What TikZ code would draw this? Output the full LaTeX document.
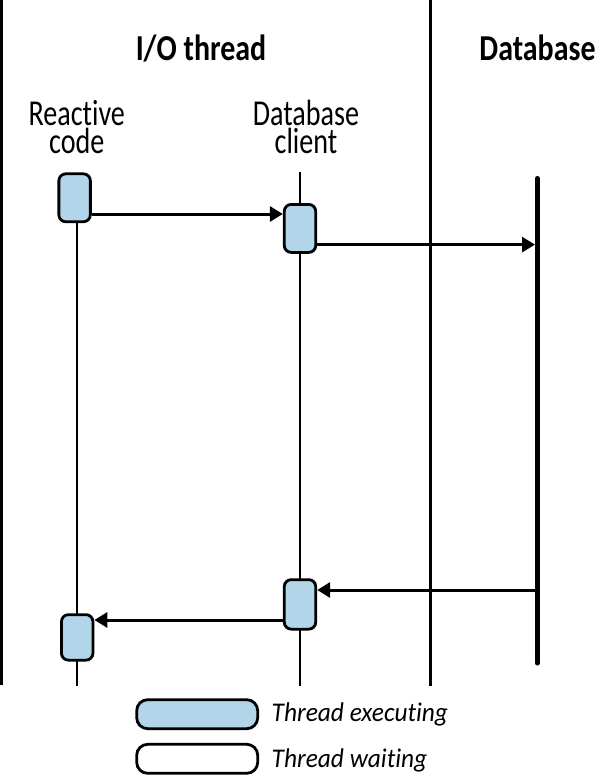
\documentclass[tikz,border=0pt]{standalone}
\usepackage{fontspec}
\setmainfont{Carlito}[FakeStretch=0.77, Ligatures=NoCommon]
\newfontfamily\headfont{Carlito}[FakeStretch=0.82, Ligatures=NoCommon]
\newfontfamily\legfont{Carlito}[FakeStretch=0.94, Ligatures=NoCommon]
\usetikzlibrary{arrows.meta}
\definecolor{execblue}{HTML}{B3D5EA}
\begin{document}
\begin{tikzpicture}[x=1pt,y=-1pt,
  border/.style={line width=2.6pt},
  lifeline/.style={line width=2pt},
  dbline/.style={line width=5pt, line cap=round},
  execbox/.style={draw, line width=2.8pt, fill=execblue, rounded corners=7pt,
    minimum width=31.5pt, minimum height=48pt, inner sep=0pt},
  legbox/.style={draw, line width=2.8pt, rounded corners=11pt,
    minimum width=121pt, minimum height=29pt, inner sep=0pt},
  msg/.style={line width=3pt, -{Triangle[length=13pt,width=15pt]}},
  head/.style={font=\headfont\bfseries\fontsize{36.5}{36}\selectfont, inner sep=0pt},
  lbl/.style={font=\fontsize{36.5}{28}\selectfont, align=center, inner sep=0pt},
  legtxt/.style={font=\legfont\itshape\fontsize{27}{28}\selectfont, inner sep=0pt}
]
\useasboundingbox (0,0) rectangle (600,776);

% frame lines
\coordinate (bTop) at (1.5,0);
\coordinate (bBot) at (1.5,685);
\coordinate (sTop) at (430.7,0);
\coordinate (sBot) at (430.7,686);
\draw[border] (bTop) -- (bBot);
\draw[border] (sTop) -- (sBot);

% headers
\node[head, anchor=base] (hio) at (201,60) {I/O thread};
\node[head, anchor=base] (hdb) at (537.5,60) {Database};
\node[lbl, anchor=base] (lrc) at (76.7,153) {Reactive\\code};
\node[lbl, anchor=base] (ldc) at (306,153) {Database\\client};

% lifelines
\coordinate (rcTop) at (77.4,215);
\coordinate (rcBot) at (77.4,686);
\coordinate (dcTop) at (300,172);
\coordinate (dcBot) at (300,686);
\coordinate (dbTop) at (537.3,178.5);
\coordinate (dbBot) at (537.3,663);
\draw[lifeline] (rcTop) -- (rcBot);
\draw[lifeline] (dcTop) -- (dcBot);
\draw[dbline] (dbTop) -- (dbBot);

% execution boxes
\node[execbox] (rc1) at (74.6,197.8) {};
\node[execbox] (dc1) at (300,228.4) {};
\node[execbox, minimum height=49.5pt] (dc2) at (300,604.4) {};
\node[execbox, minimum height=45.5pt] (rc2) at (77.2,637.4) {};

% message levels
\coordinate (y1) at (0,214);
\coordinate (y2) at (0,244.6);
\coordinate (y3) at (0,590);
\coordinate (y4) at (0,620);
\coordinate (dbL) at (535,0);
\coordinate (dbC) at (537.3,0);

\draw[msg] (rc1.east |- y1) -- (dc1.west |- y1);
\draw[msg] (dc1.east |- y2) -- (dbL |- y2);
\draw[msg] (dbC |- y3) -- (dc2.east |- y3);
\draw[msg] (dc2.west |- y4) -- (rc2.east |- y4);

% legend
\node[legbox, fill=execblue] (lgex) at (197.2,714.2) {};
\node[legbox, fill=white] (lgwt) at (197.2,758.8) {};
\node[legtxt, anchor=base west] (tex) at (271.5,721.7) {Thread executing};
\node[legtxt, anchor=base west] (twt) at (271.5,767) {Thread waiting};
\end{tikzpicture}
\end{document}
